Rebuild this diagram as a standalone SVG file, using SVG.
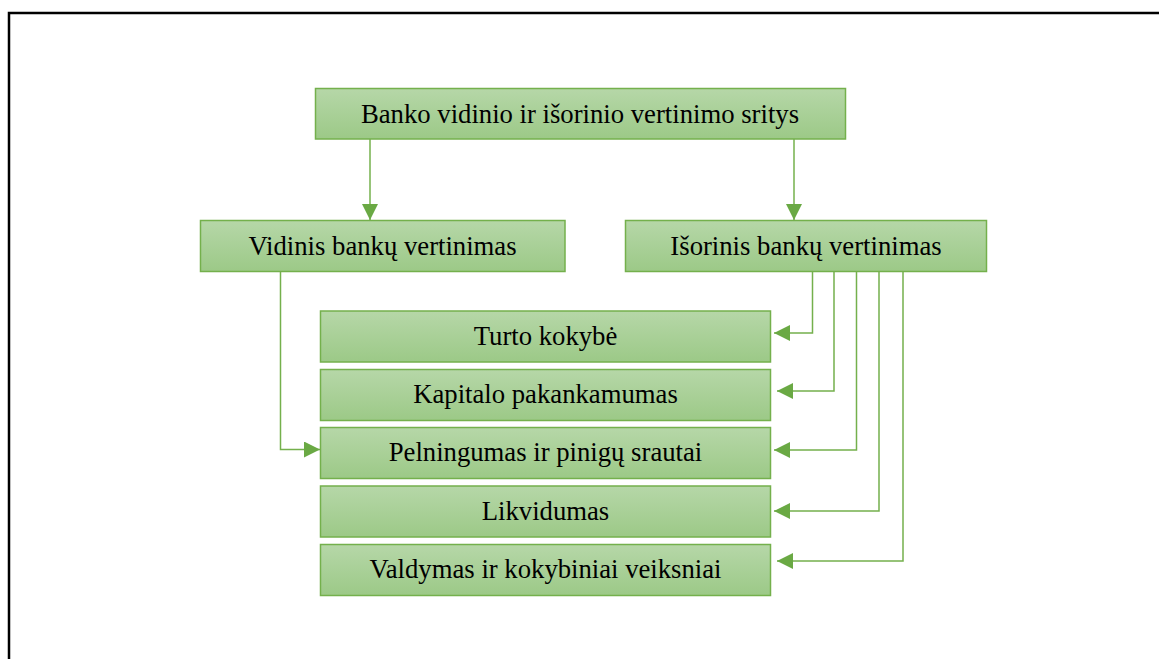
<svg xmlns="http://www.w3.org/2000/svg" width="1159" height="659" viewBox="0 0 1159 659">
<defs>
<linearGradient id="g" x1="0" y1="0" x2="0" y2="1">
<stop offset="0" stop-color="#b6d7a8"/>
<stop offset="1" stop-color="#9cc987"/>
</linearGradient>
<marker id="ah" markerUnits="userSpaceOnUse" markerWidth="16" markerHeight="16" refX="15" refY="7.5" orient="auto" viewBox="0 0 15 15">
<path d="M0,0 L15,7.5 L0,15 z" fill="#6aa944"/>
</marker>
<style>
.box{fill:url(#g);stroke:#74b04c;stroke-width:1.5}
.t{font-family:"Liberation Serif","Times New Roman",serif;font-size:26.7px;fill:#000;text-anchor:middle}
.c{fill:none;stroke:#74b04c;stroke-width:1.5;marker-end:url(#ah)}
</style>
</defs>
<rect width="1159" height="659" fill="#fff"/>
<path d="M9,659 V13 H1159" fill="none" stroke="#000" stroke-width="2.5"/>
<g id="connectors">
<path class="c" d="M370,139 V220"/>
<path class="c" d="M794,139 V220"/>
<path class="c" d="M280.5,272 V449.5 H320"/>
<path class="c" d="M812.5,272 V333 H774"/>
<path class="c" d="M834,272 V391 H777"/>
<path class="c" d="M856.5,272 V450 H774"/>
<path class="c" d="M879,272 V511 H774"/>
<path class="c" d="M903,272 V561 H777"/>
</g>
<g id="root">
<rect class="box" x="315.5" y="88.5" width="530" height="50.5"/>
<text class="t" x="580" y="123">Banko vidinio ir išorinio vertinimo sritys</text>
</g>
<g id="vidinis">
<rect class="box" x="200.5" y="220.5" width="364.5" height="51"/>
<text class="t" x="382.5" y="254.5">Vidinis bankų vertinimas</text>
</g>
<g id="isorinis">
<rect class="box" x="625.5" y="220.5" width="361" height="51"/>
<text class="t" x="806" y="254.5">Išorinis bankų vertinimas</text>
</g>
<g id="turto">
<rect class="box" x="320.5" y="311" width="450" height="51"/>
<text class="t" x="545.5" y="344.5">Turto kokybė</text>
</g>
<g id="kapitalo">
<rect class="box" x="320.5" y="369.5" width="450" height="51"/>
<text class="t" x="545.5" y="403">Kapitalo pakankamumas</text>
</g>
<g id="pelningumas">
<rect class="box" x="320.5" y="427.5" width="450" height="51"/>
<text class="t" x="545.5" y="461">Pelningumas ir pinigų srautai</text>
</g>
<g id="likvidumas">
<rect class="box" x="320.5" y="486" width="450" height="51"/>
<text class="t" x="545.5" y="519.5">Likvidumas</text>
</g>
<g id="valdymas">
<rect class="box" x="320.5" y="544.5" width="450" height="51"/>
<text class="t" x="545.5" y="578">Valdymas ir kokybiniai veiksniai</text>
</g>
</svg>
